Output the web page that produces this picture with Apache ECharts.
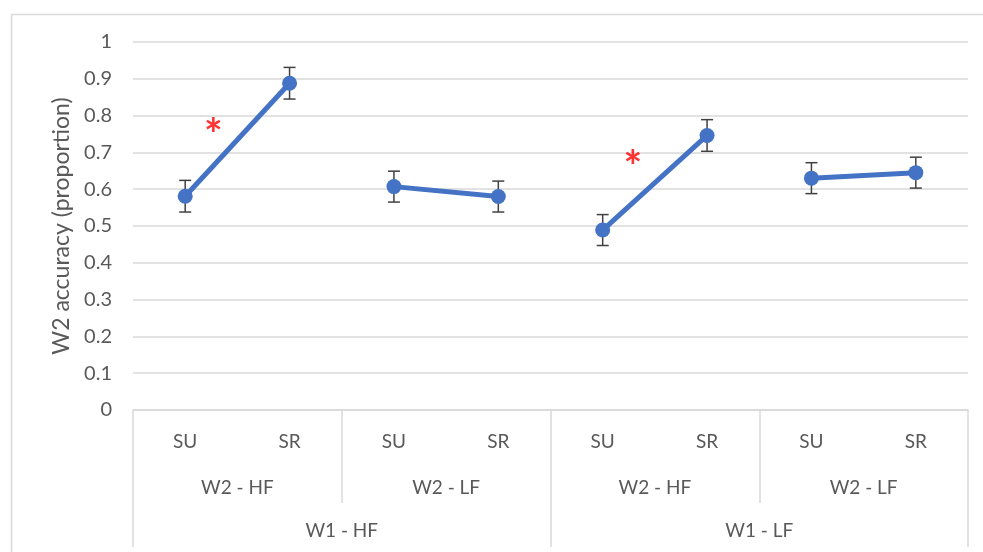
<!DOCTYPE html>
<html>
<head>
    <meta charset="utf-8">
</head>
<body style="margin: 0">
    <div id="container" style="width: 983px; height: 552px"></div>
    <script type="text/javascript" src="https://cdn.jsdelivr.net/npm/echarts@6/dist/echarts.min.js"></script>
    <script type="text/javascript">
var conditions = ['SU', 'SR', 'SU', 'SR', 'SU', 'SR', 'SU', 'SR'];
var w2Groups = ['W2 - HF', 'W2 - LF', 'W2 - HF', 'W2 - LF'];
var w1Groups = ['W1 - HF', 'W1 - LF'];
var means = [0.581, 0.888, 0.607, 0.580, 0.489, 0.746, 0.630, 0.645];
var errors = [0.043, 0.043, 0.042, 0.042, 0.042, 0.043, 0.042, 0.042];
// significance marks: [position in category units, value]
var stars = [[0.27, 0.745], [4.29, 0.658]];

var dom = document.getElementById("container");
var myChart = echarts.init(dom);
var font = 'Lato, "Open Sans", sans-serif';
var grey = '#595959';

// one line series per SU/SR pair
var pairSeries = [];
for (var p = 0; p < 4; p++) {
    var d = [];
    for (var i = 0; i < means.length; i++) {
        d.push(Math.floor(i / 2) === p ? means[i] : '-');
    }
    pairSeries.push({
        type: 'line',
        data: d,
        z: 3,
        symbol: 'circle',
        symbolSize: 15,
        itemStyle: { color: '#4472C4' },
        lineStyle: { color: '#4472C4', width: 5 },
        emphasis: { disabled: true }
    });
}

var errData = means.map(function (m, i) { return [i, m, errors[i]]; });

var option = {
    backgroundColor: '#fff',
    animation: false,
    graphic: [{
        type: 'rect',
        left: 9,
        top: 12,
        shape: { width: 1000, height: 600 },
        style: { fill: 'none', stroke: '#d9d9d9', lineWidth: 1.5 }
    }],
    grid: { left: 133, right: 15, top: 42, bottom: 142 },
    xAxis: [
        {
            type: 'category',
            position: 'bottom',
            data: conditions,
            axisLine: { lineStyle: { color: '#d9d9d9', width: 1.5 } },
            axisTick: { show: false },
            axisLabel: { color: grey, fontSize: 19, fontFamily: font, margin: 22, interval: 0 }
        },
        {
            type: 'category',
            position: 'bottom',
            data: w2Groups,
            axisLine: { show: false },
            axisTick: { show: true, length: 93, interval: 0, lineStyle: { color: '#d9d9d9', width: 1.5 } },
            axisLabel: { color: grey, fontSize: 19, fontFamily: font, margin: 68, interval: 0 }
        },
        {
            type: 'category',
            position: 'bottom',
            data: w1Groups,
            axisLine: { show: false },
            axisTick: { show: true, length: 137, interval: 0, lineStyle: { color: '#d9d9d9', width: 1.5 } },
            axisLabel: { color: grey, fontSize: 19, fontFamily: font, margin: 111, interval: 0 }
        },
        {
            type: 'value',
            position: 'top',
            min: -0.5,
            max: 7.5,
            show: false
        }
    ],
    yAxis: {
        type: 'value',
        min: 0,
        max: 1,
        interval: 0.1,
        name: 'W2 accuracy (proportion)',
        nameLocation: 'middle',
        nameGap: 59,
        nameTextStyle: { color: grey, fontSize: 23, fontFamily: font },
        axisLine: { show: false },
        axisTick: { show: false },
        axisLabel: {
            color: grey, fontSize: 20, fontFamily: font, margin: 21,
            formatter: function (v) { return String(Math.round(v * 10) / 10); }
        },
        splitLine: { lineStyle: { color: '#d9d9d9', width: 1.5 } }
    },
    series: [
        {
            type: 'custom',
            data: errData,
            z: 2,
            renderItem: function (params, api) {
                var x = api.value(0), m = api.value(1), e = api.value(2);
                var hi = api.coord([x, m + e]);
                var lo = api.coord([x, m - e]);
                var w = 6;
                var st = { stroke: '#404040', lineWidth: 1.5 };
                return {
                    type: 'group',
                    children: [
                        { type: 'line', shape: { x1: hi[0], y1: hi[1], x2: lo[0], y2: lo[1] }, style: st },
                        { type: 'line', shape: { x1: hi[0] - w, y1: hi[1], x2: hi[0] + w, y2: hi[1] }, style: st },
                        { type: 'line', shape: { x1: lo[0] - w, y1: lo[1], x2: lo[0] + w, y2: lo[1] }, style: st }
                    ]
                };
            }
        },
        {
            type: 'scatter',
            xAxisIndex: 3,
            data: stars,
            symbolSize: 0,
            z: 4,
            label: {
                show: true,
                position: 'inside',
                formatter: '*',
                color: '#FF0000',
                fontSize: 44,
                fontWeight: 'bold',
                fontFamily: font
            }
        }
    ].concat(pairSeries)
};
myChart.setOption(option);
</script>
</body>
</html>
